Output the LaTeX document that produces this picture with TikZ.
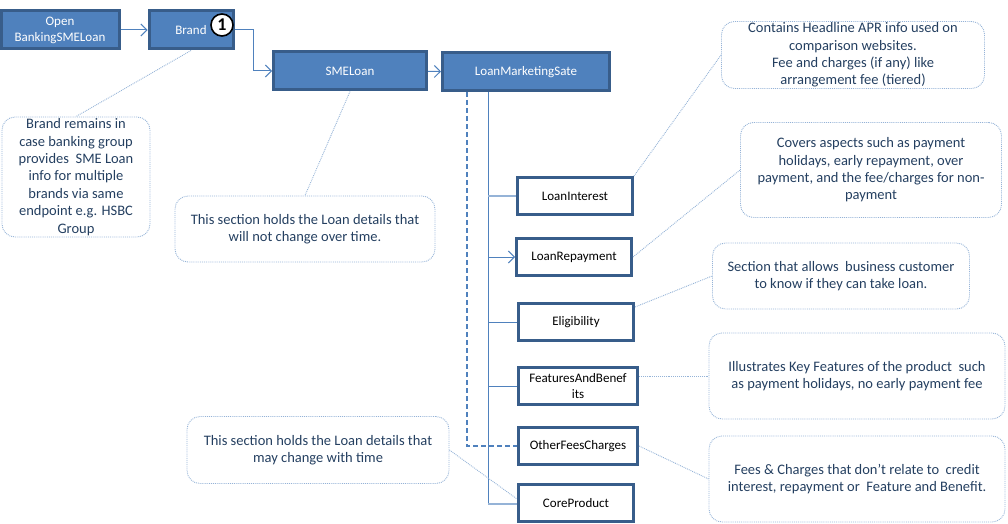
\documentclass[tikz,border=0pt]{standalone}
\usepackage{fontspec}
\setmainfont{Carlito}
\usetikzlibrary{arrows.meta}
\definecolor{boxfill}{HTML}{4F81BD}
\definecolor{boxedge}{HTML}{385D8A}
\definecolor{noteedge}{HTML}{95B3D7}
\definecolor{notetext}{HTML}{243F60}

\begin{document}
\begin{tikzpicture}[x=1pt,y=-1pt,>={Straight Barb[length=6pt,width=12pt]},
  bluebox/.style={draw=boxedge, line width=3pt, fill=boxfill, text=white, minimum height=38pt, inner sep=0pt, align=center, font=\fontsize{13}{16}\selectfont},
  whitebox/.style={draw=boxedge, line width=3pt, fill=white, minimum width=115pt, minimum height=37pt, inner sep=0pt, align=center, font=\fontsize{13}{16}\selectfont},
  notebox/.style={draw=noteedge, densely dotted, line width=0.9pt, rounded corners=13pt, text=notetext, inner sep=0pt, align=center, font=\fontsize{14.5}{17.4}\selectfont},
  notelink/.style={draw=noteedge, densely dotted, line width=0.9pt},
  tree/.style={draw=boxfill, line width=1pt},
  stub/.style={draw=noteedge, line width=2pt},
  hidden/.style={draw=boxfill, dash pattern=on 5pt off 3pt, line width=1.3pt}]
\useasboundingbox (0,0) rectangle (1008,524) ;

\node[bluebox, minimum width=118pt] (open) at (60,30) {Open\\BankingSMELoan} ;
\node[bluebox, minimum width=84pt] (brand) at (191,30) {Brand} ;
\node[bluebox, minimum width=153pt] (sme) at (350,71) {SMELoan} ;
\node[bluebox, minimum width=167pt] (lms) at (526,72) {LoanMarketingSate} ;

\draw[tree,->] (open) -- (brand) ;
\draw[tree,->] (brand.east) -- (253,30) |- (sme.west) ;
\draw[tree,->] (sme) -- (lms) ;
\node[draw=black, fill=white, circle, line width=1.6pt, minimum size=22pt, inner sep=0pt, font=\fontsize{18}{18}\selectfont\bfseries] (one) at (222,25) {1} ;

\node[whitebox] (interest) at (575,196) {LoanInterest} ;
\node[whitebox] (repay) at (574,257) {LoanRepayment} ;
\node[whitebox] (elig) at (576,322) {Eligibility} ;
\node[whitebox, minimum width=119pt] (feat) at (578,386) {FeaturesAndBenef\\its} ;
\node[whitebox, minimum width=119pt] (other) at (578,446) {OtherFeesCharges} ;
\node[whitebox] (core) at (576,503) {CoreProduct} ;

\coordinate (trunk) at (488,92) ;
\coordinate (dtop) at (467,92) ;
\draw[hidden] (dtop) |- (other.west) ;
\draw[tree] (trunk) |- (core.west) ;
\draw[stub] (trunk |- interest.west) -- (interest.west) ;
\draw[stub] ([yshift=-1pt]trunk |- core.west) -- ([yshift=-1pt]core.west) ;
\draw[tree,->] (trunk |- repay.west) -- (repay.west) ;
\draw[tree] (trunk |- elig.west) -- (elig.west) ;
\draw[tree] (trunk |- feat.west) -- (feat.west) ;

\node[notebox, minimum width=263pt, minimum height=67pt] (apr) at (853,55) {Contains Headline APR info used on\\comparison websites.\\Fee and charges (if any) like\\arrangement fee (tiered)} ;
\node[notebox, minimum width=261pt, minimum height=95pt] (covers) at (871,170) {Covers aspects such as payment\\holidays, early repayment, over\\payment, and the fee/charges for non-\\payment} ;
\node[notebox, minimum width=257pt, minimum height=66pt] (section) at (841,276) {Section that allows \ business customer\\to know if they can take loan.} ;
\node[notebox, minimum width=296pt, minimum height=86pt] (illus) at (857,376) {Illustrates Key Features of the product \ such\\as payment holidays, no early payment fee} ;
\node[notebox, minimum width=296pt, minimum height=86pt] (fees) at (857,479) {Fees \& Charges that don’t relate to \ credit\\interest, repayment or \ Feature and Benefit.} ;
\node[notebox, minimum width=262pt, minimum height=67pt] (maychange) at (318,450) {This section holds the Loan details that\\may change with time} ;
\node[notebox, minimum width=260pt, minimum height=66pt] (nochange) at (305,229) {This section holds the Loan details that\\will not change over time.} ;
\node[notebox, minimum width=148pt, minimum height=120pt] (brandnote) at (76,177) {Brand remains in\\case banking group\\provides \ SME Loan\\info for multiple\\brands via same\\endpoint e.g. HSBC\\Group} ;

\draw[notelink] (interest.north east) -- (apr.west) ;
\draw[notelink] (repay.east) -- (covers.west) ;
\draw[notelink] ([yshift=15pt]elig.east) -- (section.west) ;
\draw[notelink] (illus.west -| feat.east) -- (illus.west) ;
\draw[notelink] (other.east) -- (fees.west) ;
\draw[notelink] (maychange.east) -- ([yshift=4pt]core.west) ;
\draw[notelink] (sme.south) -- (nochange.north) ;
\draw[notelink] (brand.south) -- (brandnote.north) ;
\end{tikzpicture}
\end{document}
